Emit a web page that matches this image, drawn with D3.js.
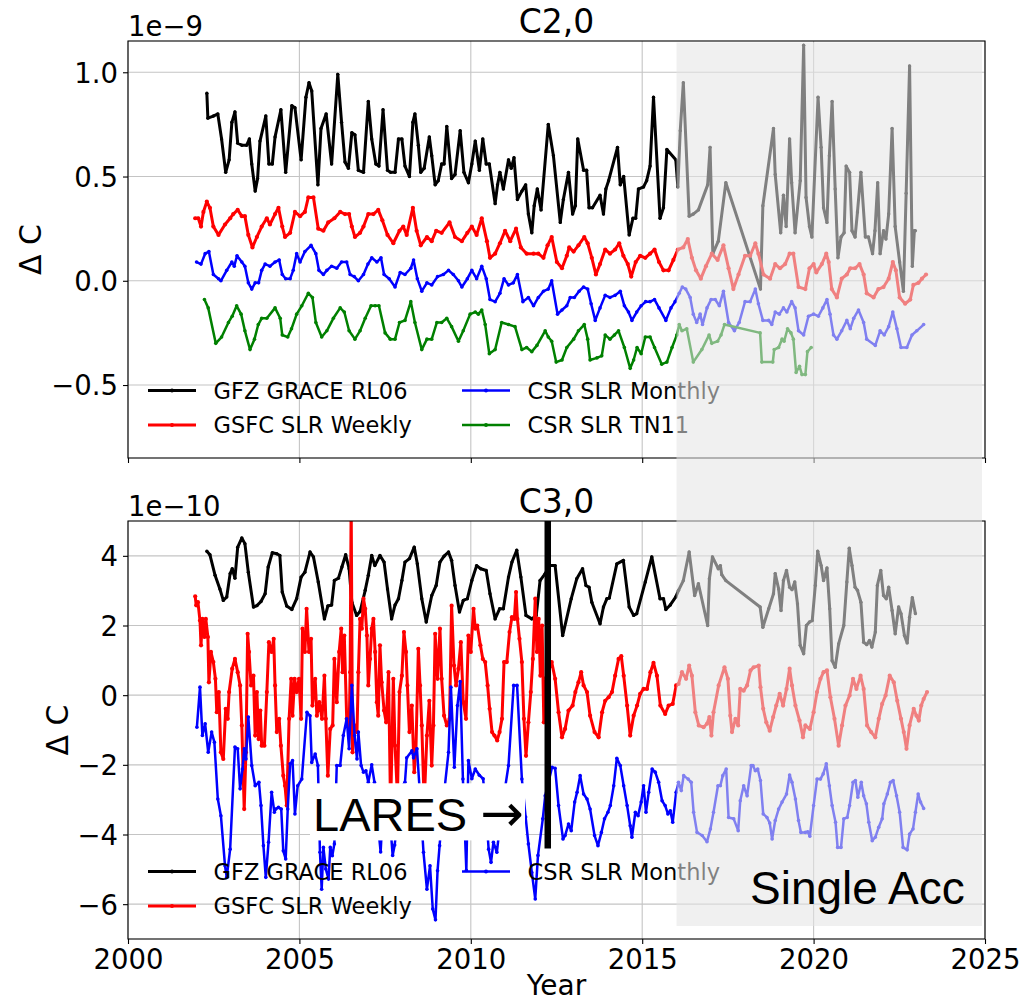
<!DOCTYPE html>
<html><head><meta charset="utf-8">
<script src="https://cdn.jsdelivr.net/npm/d3@7/dist/d3.min.js"></script>
<style>body{margin:0;background:#fff}svg{display:block}</style>
</head><body>
<svg id="fig" width="1022" height="1004"></svg>
<script>
// ---- C2,0 series (units of 1e-9), [decimal year, value] ----
const gfzC20 = [[2002.30,0.90],[2002.33,0.78],[2002.49,0.79],[2002.62,0.80],[2002.73,0.68],[2002.85,0.52],[2002.95,0.58],[2003.03,0.76],[2003.12,0.81],[2003.20,0.66],[2003.32,0.65],[2003.46,0.65],[2003.54,0.68],[2003.61,0.56],[2003.71,0.43],[2003.78,0.49],[2003.85,0.67],[2004.02,0.79],[2004.11,0.56],[2004.21,0.56],[2004.29,0.69],[2004.46,0.82],[2004.60,0.52],[2004.78,0.84],[2004.87,0.83],[2005.05,0.58],[2005.19,0.88],[2005.28,0.95],[2005.36,0.91],[2005.54,0.46],[2005.63,0.73],[2005.78,0.80],[2005.94,0.56],[2006.12,0.99],[2006.23,0.76],[2006.33,0.57],[2006.43,0.54],[2006.53,0.71],[2006.62,0.70],[2006.72,0.53],[2006.87,0.52],[2007.01,0.86],[2007.11,0.68],[2007.23,0.56],[2007.32,0.55],[2007.44,0.82],[2007.57,0.53],[2007.66,0.52],[2007.79,0.52],[2007.89,0.68],[2007.99,0.68],[2008.08,0.55],[2008.21,0.50],[2008.31,0.76],[2008.37,0.80],[2008.47,0.65],[2008.54,0.52],[2008.64,0.54],[2008.79,0.69],[2008.86,0.60],[2008.96,0.46],[2009.05,0.48],[2009.15,0.56],[2009.22,0.56],[2009.30,0.74],[2009.44,0.49],[2009.54,0.51],[2009.69,0.72],[2009.80,0.52],[2009.93,0.47],[2010.03,0.56],[2010.13,0.67],[2010.25,0.53],[2010.35,0.68],[2010.45,0.56],[2010.54,0.56],[2010.71,0.37],[2010.78,0.46],[2010.85,0.52],[2010.95,0.44],[2011.10,0.58],[2011.18,0.54],[2011.26,0.59],[2011.36,0.39],[2011.49,0.43],[2011.60,0.46],[2011.68,0.32],[2011.78,0.23],[2011.85,0.36],[2011.94,0.44],[2012.05,0.34],[2012.26,0.75],[2012.41,0.60],[2012.61,0.28],[2012.70,0.39],[2012.85,0.52],[2012.97,0.32],[2013.05,0.36],[2013.12,0.68],[2013.29,0.53],[2013.38,0.53],[2013.45,0.35],[2013.55,0.35],[2013.77,0.41],[2013.87,0.32],[2013.94,0.44],[2014.02,0.48],[2014.28,0.64],[2014.36,0.46],[2014.46,0.50],[2014.62,0.22],[2014.73,0.30],[2014.81,0.30],[2014.89,0.44],[2015.04,0.45],[2015.13,0.48],[2015.23,0.55],[2015.33,0.88],[2015.52,0.30],[2015.62,0.35],[2015.72,0.63],[2015.98,0.58],[2016.04,0.45],[2016.11,0.72],[2016.20,0.95],[2016.37,0.31],[2016.49,0.32],[2016.64,0.34],[2016.91,0.46],[2016.98,0.64],[2017.06,0.13],[2017.22,0.19],[2017.44,0.47],[2018.45,-0.04],[2018.52,0.36],[2018.83,0.73],[2018.88,0.51],[2019.04,0.23],[2019.12,0.41],[2019.20,0.26],[2019.30,0.68],[2019.36,0.47],[2019.46,0.23],[2019.61,0.48],[2019.71,1.13],[2019.78,0.40],[2019.88,0.26],[2019.95,0.21],[2020.13,0.88],[2020.22,0.64],[2020.29,0.35],[2020.39,0.28],[2020.46,0.60],[2020.54,0.86],[2020.63,0.44],[2020.71,0.11],[2020.80,0.21],[2020.89,0.23],[2020.95,0.55],[2021.05,0.52],[2021.12,0.24],[2021.21,0.21],[2021.28,0.33],[2021.38,0.52],[2021.51,0.21],[2021.60,0.21],[2021.72,0.13],[2021.79,0.24],[2021.87,0.47],[2021.94,0.13],[2022.04,0.24],[2022.11,0.20],[2022.19,0.32],[2022.29,0.73],[2022.38,0.26],[2022.51,0.09],[2022.62,-0.05],[2022.70,0.42],[2022.80,1.03],[2022.88,0.07],[2022.94,0.24],[2022.97,0.24]];

const gsfcC20 = [[2001.96,0.30],[2002.05,0.30],[2002.13,0.26],[2002.20,0.33],[2002.30,0.38],[2002.39,0.35],[2002.49,0.26],[2002.64,0.22],[2002.83,0.27],[2002.98,0.30],[2003.07,0.32],[2003.20,0.34],[2003.32,0.31],[2003.41,0.31],[2003.51,0.22],[2003.63,0.16],[2003.76,0.21],[2003.90,0.26],[2004.05,0.30],[2004.14,0.27],[2004.29,0.32],[2004.39,0.35],[2004.50,0.26],[2004.58,0.21],[2004.73,0.23],[2004.87,0.33],[2005.02,0.31],[2005.16,0.33],[2005.26,0.40],[2005.41,0.40],[2005.55,0.25],[2005.70,0.24],[2005.84,0.28],[2006.02,0.30],[2006.19,0.33],[2006.33,0.32],[2006.45,0.32],[2006.53,0.26],[2006.62,0.21],[2006.77,0.23],[2006.87,0.26],[2007.01,0.32],[2007.16,0.32],[2007.30,0.34],[2007.42,0.29],[2007.57,0.22],[2007.74,0.18],[2007.92,0.24],[2008.03,0.26],[2008.13,0.22],[2008.31,0.35],[2008.42,0.24],[2008.54,0.17],[2008.72,0.21],[2008.86,0.19],[2008.99,0.24],[2009.15,0.23],[2009.38,0.28],[2009.54,0.21],[2009.74,0.19],[2009.90,0.23],[2010.03,0.26],[2010.17,0.22],[2010.32,0.30],[2010.47,0.19],[2010.56,0.11],[2010.71,0.13],[2010.85,0.18],[2011.00,0.24],[2011.15,0.19],[2011.32,0.25],[2011.46,0.16],[2011.63,0.13],[2011.83,0.13],[2011.97,0.13],[2012.12,0.11],[2012.24,0.17],[2012.36,0.21],[2012.51,0.09],[2012.66,0.06],[2012.80,0.12],[2012.87,0.16],[2013.00,0.14],[2013.14,0.17],[2013.31,0.21],[2013.41,0.18],[2013.53,0.11],[2013.65,0.03],[2013.77,0.08],[2013.92,0.15],[2014.06,0.13],[2014.21,0.15],[2014.33,0.18],[2014.45,0.12],[2014.58,0.08],[2014.68,0.02],[2014.81,0.09],[2014.94,0.12],[2015.09,0.11],[2015.23,0.13],[2015.36,0.15],[2015.49,0.09],[2015.62,0.05],[2015.77,0.05],[2015.91,0.10],[2016.04,0.15],[2016.20,0.16],[2016.33,0.20],[2016.45,0.11],[2016.57,0.05],[2016.71,0.01],[2016.86,0.07],[2017.03,0.13],[2017.20,0.10],[2017.37,0.17],[2017.52,0.06],[2017.66,-0.04],[2017.81,0.03],[2018.00,0.12],[2018.15,0.12],[2018.30,0.18],[2018.39,0.13],[2018.54,0.03],[2018.73,0.01],[2018.88,0.08],[2019.02,0.06],[2019.17,0.08],[2019.30,0.13],[2019.41,0.13],[2019.56,-0.03],[2019.76,-0.04],[2019.88,0.06],[2020.00,0.08],[2020.08,0.04],[2020.24,0.08],[2020.37,0.13],[2020.44,0.09],[2020.53,-0.04],[2020.68,-0.08],[2020.82,0.01],[2020.97,0.03],[2021.07,0.06],[2021.21,0.06],[2021.34,0.08],[2021.46,0.03],[2021.55,-0.06],[2021.75,-0.08],[2021.89,-0.04],[2022.04,-0.03],[2022.19,0.01],[2022.31,0.09],[2022.40,0.05],[2022.51,-0.08],[2022.67,-0.11],[2022.82,-0.09],[2022.91,-0.02],[2023.06,-0.01],[2023.16,0.01],[2023.28,0.03]];

const csrMonthlyC20 = [[2002.00,0.09],[2002.13,0.08],[2002.25,0.13],[2002.36,0.14],[2002.49,0.03],[2002.64,0.01],[2002.71,0.00],[2002.88,0.05],[2003.03,0.09],[2003.10,0.07],[2003.18,0.12],[2003.32,0.09],[2003.41,0.07],[2003.51,-0.01],[2003.61,-0.04],[2003.71,-0.01],[2003.81,-0.01],[2003.90,0.05],[2004.00,0.08],[2004.14,0.07],[2004.29,0.09],[2004.41,0.10],[2004.50,0.03],[2004.60,0.01],[2004.73,0.01],[2004.82,0.05],[2004.92,0.13],[2005.02,0.09],[2005.16,0.14],[2005.34,0.17],[2005.48,0.13],[2005.57,0.05],[2005.70,0.03],[2005.80,0.05],[2005.94,0.07],[2006.09,0.06],[2006.23,0.09],[2006.38,0.09],[2006.48,0.03],[2006.60,0.02],[2006.72,0.00],[2006.87,0.03],[2007.00,0.08],[2007.11,0.11],[2007.26,0.09],[2007.38,0.11],[2007.47,0.03],[2007.62,0.01],[2007.79,-0.03],[2007.94,0.04],[2008.08,0.03],[2008.25,0.06],[2008.33,0.10],[2008.44,0.01],[2008.57,-0.05],[2008.72,-0.01],[2008.86,-0.02],[2009.03,0.02],[2009.20,0.03],[2009.35,0.05],[2009.49,0.03],[2009.64,0.00],[2009.74,-0.03],[2009.90,0.01],[2010.03,0.05],[2010.17,0.01],[2010.32,0.07],[2010.45,0.01],[2010.56,-0.09],[2010.71,-0.10],[2010.85,-0.06],[2010.97,0.01],[2011.10,-0.02],[2011.24,-0.01],[2011.36,0.03],[2011.52,-0.10],[2011.68,-0.08],[2011.83,-0.12],[2011.97,-0.08],[2012.12,-0.05],[2012.26,-0.04],[2012.36,0.00],[2012.53,-0.16],[2012.66,-0.14],[2012.80,-0.12],[2012.90,-0.08],[2013.02,-0.08],[2013.16,-0.05],[2013.29,-0.03],[2013.41,-0.04],[2013.51,-0.11],[2013.63,-0.19],[2013.77,-0.13],[2013.92,-0.07],[2014.06,-0.08],[2014.21,-0.07],[2014.36,-0.05],[2014.48,-0.12],[2014.60,-0.15],[2014.70,-0.19],[2014.84,-0.15],[2014.97,-0.12],[2015.10,-0.10],[2015.23,-0.10],[2015.36,-0.09],[2015.49,-0.13],[2015.69,-0.19],[2015.84,-0.13],[2015.96,-0.10],[2016.08,-0.06],[2016.17,-0.03],[2016.27,-0.04],[2016.40,-0.08],[2016.49,-0.16],[2016.59,-0.20],[2016.69,-0.16],[2016.76,-0.21],[2016.89,-0.13],[2017.01,-0.09],[2017.13,-0.09],[2017.25,-0.12],[2017.37,-0.05],[2017.52,-0.20],[2017.69,-0.24],[2017.83,-0.20],[2018.00,-0.10],[2018.15,-0.10],[2018.30,-0.04],[2018.39,-0.11],[2018.52,-0.19],[2018.69,-0.19],[2018.78,-0.21],[2018.88,-0.15],[2019.00,-0.16],[2019.12,-0.13],[2019.22,-0.15],[2019.36,-0.10],[2019.46,-0.13],[2019.56,-0.24],[2019.71,-0.26],[2019.85,-0.17],[2020.00,-0.16],[2020.14,-0.17],[2020.27,-0.13],[2020.39,-0.09],[2020.48,-0.16],[2020.58,-0.26],[2020.68,-0.28],[2020.82,-0.24],[2020.97,-0.19],[2021.07,-0.23],[2021.17,-0.18],[2021.31,-0.14],[2021.46,-0.20],[2021.55,-0.28],[2021.80,-0.31],[2021.94,-0.24],[2022.06,-0.26],[2022.19,-0.22],[2022.31,-0.15],[2022.43,-0.23],[2022.55,-0.32],[2022.72,-0.32],[2022.87,-0.26],[2023.01,-0.24],[2023.21,-0.21]];

const csrTn11C20 = [[2002.23,-0.09],[2002.34,-0.13],[2002.56,-0.30],[2002.73,-0.27],[2002.93,-0.20],[2003.04,-0.17],[2003.17,-0.12],[2003.30,-0.16],[2003.41,-0.24],[2003.56,-0.33],[2003.69,-0.28],[2003.80,-0.21],[2003.90,-0.18],[2004.05,-0.18],[2004.29,-0.13],[2004.44,-0.18],[2004.50,-0.26],[2004.66,-0.27],[2004.77,-0.23],[2004.92,-0.16],[2005.07,-0.12],[2005.26,-0.06],[2005.38,-0.08],[2005.48,-0.20],[2005.65,-0.27],[2005.80,-0.24],[2005.99,-0.18],[2006.19,-0.13],[2006.31,-0.15],[2006.45,-0.24],[2006.62,-0.28],[2006.77,-0.24],[2006.92,-0.18],[2007.09,-0.12],[2007.21,-0.12],[2007.32,-0.12],[2007.50,-0.25],[2007.65,-0.28],[2007.79,-0.28],[2007.92,-0.20],[2008.08,-0.19],[2008.25,-0.10],[2008.37,-0.20],[2008.57,-0.33],[2008.72,-0.28],[2008.86,-0.28],[2009.01,-0.20],[2009.15,-0.20],[2009.30,-0.18],[2009.44,-0.22],[2009.64,-0.29],[2009.78,-0.24],[2009.98,-0.16],[2010.13,-0.15],[2010.22,-0.16],[2010.32,-0.14],[2010.42,-0.21],[2010.54,-0.35],[2010.71,-0.33],[2010.90,-0.20],[2011.10,-0.21],[2011.29,-0.22],[2011.49,-0.33],[2011.63,-0.32],[2011.78,-0.34],[2011.93,-0.31],[2012.17,-0.24],[2012.26,-0.27],[2012.36,-0.29],[2012.49,-0.39],[2012.66,-0.38],[2012.80,-0.32],[2013.00,-0.28],[2013.14,-0.24],[2013.31,-0.21],[2013.41,-0.28],[2013.48,-0.38],[2013.68,-0.37],[2013.82,-0.36],[2013.92,-0.26],[2014.06,-0.28],[2014.19,-0.26],[2014.31,-0.24],[2014.48,-0.32],[2014.65,-0.42],[2014.75,-0.38],[2014.85,-0.32],[2014.97,-0.35],[2015.09,-0.27],[2015.23,-0.27],[2015.36,-0.32],[2015.57,-0.40],[2015.72,-0.39],[2015.87,-0.32],[2016.01,-0.26],[2016.08,-0.21],[2016.16,-0.24],[2016.30,-0.23],[2016.49,-0.39],[2016.74,-0.33],[2016.95,-0.26],[2017.03,-0.30],[2017.20,-0.29],[2017.30,-0.26],[2017.40,-0.21],[2018.44,-0.25],[2018.49,-0.39],[2018.81,-0.39],[2018.85,-0.33],[2018.98,-0.32],[2019.08,-0.28],[2019.14,-0.29],[2019.24,-0.23],[2019.34,-0.25],[2019.41,-0.28],[2019.49,-0.44],[2019.59,-0.41],[2019.66,-0.45],[2019.76,-0.45],[2019.82,-0.34],[2019.93,-0.32]];

// ---- C3,0 series (units of 1e-10) ----
const gfzC30 = [[2002.30,4.13],[2002.39,4.03],[2002.54,3.44],[2002.68,3.05],[2002.78,2.72],[2002.88,2.82],[2002.98,3.49],[2003.04,3.63],[2003.12,3.36],[2003.20,4.25],[2003.32,4.51],[2003.41,4.35],[2003.51,3.53],[2003.66,2.53],[2003.76,2.57],[2003.88,2.69],[2004.00,2.91],[2004.09,3.68],[2004.21,4.09],[2004.34,4.06],[2004.43,4.01],[2004.50,2.96],[2004.63,2.56],[2004.78,2.46],[2004.92,2.77],[2005.05,3.39],[2005.16,3.53],[2005.31,4.11],[2005.41,3.97],[2005.55,3.25],[2005.73,2.19],[2005.83,2.56],[2005.94,2.59],[2006.02,3.29],[2006.14,3.36],[2006.24,3.68],[2006.35,4.03],[2006.45,3.63],[2006.53,2.67],[2006.67,2.29],[2006.77,2.40],[2006.92,3.01],[2007.01,3.44],[2007.11,4.01],[2007.20,3.72],[2007.35,4.01],[2007.47,3.82],[2007.57,3.05],[2007.69,2.19],[2007.79,2.59],[2007.89,2.77],[2007.99,3.29],[2008.08,3.82],[2008.21,3.92],[2008.35,4.25],[2008.44,3.77],[2008.57,2.77],[2008.70,2.10],[2008.86,2.86],[2008.99,3.15],[2009.10,3.82],[2009.22,3.99],[2009.35,4.11],[2009.44,3.87],[2009.54,3.15],[2009.67,2.39],[2009.78,2.72],[2009.90,2.77],[2010.03,3.29],[2010.17,3.72],[2010.29,3.63],[2010.45,3.58],[2010.56,2.91],[2010.71,2.19],[2010.84,2.48],[2010.95,2.48],[2011.10,3.39],[2011.20,3.82],[2011.34,4.16],[2011.46,3.39],[2011.61,2.29],[2011.78,2.19],[2011.91,2.29],[2012.02,3.29],[2012.17,3.49],[2012.31,3.72],[2012.46,3.72],[2012.68,1.71],[2012.93,2.77],[2013.09,3.34],[2013.26,3.63],[2013.36,3.15],[2013.45,3.10],[2013.53,2.67],[2013.77,2.05],[2013.87,2.53],[2013.97,2.77],[2014.04,2.79],[2014.26,3.77],[2014.45,3.87],[2014.62,2.53],[2014.75,2.29],[2014.84,2.34],[2015.09,3.25],[2015.28,3.97],[2015.52,2.77],[2015.62,2.77],[2015.69,2.46],[2015.82,2.59],[2015.98,2.82],[2016.06,3.01],[2016.20,3.29],[2016.37,4.11],[2016.53,2.86],[2016.64,3.20],[2016.91,2.00],[2016.96,3.34],[2017.05,3.97],[2017.22,3.63],[2017.28,3.72],[2017.32,3.46],[2017.44,3.29],[2018.44,2.53],[2018.52,1.95],[2018.69,2.48],[2018.83,2.91],[2018.88,3.49],[2018.98,3.05],[2019.05,2.43],[2019.12,3.29],[2019.21,3.58],[2019.30,3.10],[2019.37,3.03],[2019.45,3.25],[2019.53,2.62],[2019.61,1.43],[2019.71,1.19],[2019.79,2.00],[2019.88,2.10],[2019.96,2.14],[2020.05,3.15],[2020.12,4.13],[2020.22,3.72],[2020.29,3.29],[2020.39,3.65],[2020.47,2.48],[2020.54,0.99],[2020.63,0.80],[2020.73,1.47],[2020.88,2.00],[2020.97,3.25],[2021.04,4.22],[2021.12,3.72],[2021.21,3.10],[2021.28,3.01],[2021.38,2.67],[2021.46,1.52],[2021.55,1.45],[2021.63,1.57],[2021.70,1.38],[2021.80,1.81],[2021.86,3.15],[2021.96,3.58],[2022.04,2.86],[2022.12,2.77],[2022.19,3.10],[2022.29,2.43],[2022.38,1.76],[2022.48,2.53],[2022.55,2.34],[2022.65,1.71],[2022.73,1.50],[2022.80,2.24],[2022.88,2.80],[2022.97,2.34]];

const gsfcC30 = [[2001.96,2.84],[2001.99,2.58],[2002.04,2.67],[2002.10,2.14],[2002.13,1.43],[2002.17,2.19],[2002.23,1.67],[2002.27,2.19],[2002.33,1.67],[2002.36,0.37],[2002.42,1.24],[2002.49,0.95],[2002.55,0.47],[2002.59,-0.49],[2002.65,0.09],[2002.71,-1.64],[2002.78,-1.83],[2002.85,-0.39],[2002.91,-0.68],[2002.95,0.09],[2003.04,0.76],[2003.12,1.04],[2003.20,0.66],[2003.27,0.28],[2003.32,-0.87],[2003.39,-3.27],[2003.44,-1.64],[2003.49,1.76],[2003.53,1.24],[2003.59,0.28],[2003.66,0.56],[2003.71,-1.16],[2003.76,0.09],[2003.81,-1.26],[2003.86,-0.44],[2003.90,-1.45],[2003.98,-1.45],[2004.05,0.09],[2004.11,1.52],[2004.19,1.24],[2004.25,1.62],[2004.29,0.28],[2004.34,-1.06],[2004.41,-0.68],[2004.46,-1.45],[2004.53,-2.31],[2004.58,-2.60],[2004.63,-3.17],[2004.70,-0.68],[2004.76,0.47],[2004.80,-0.59],[2004.86,0.47],[2004.92,0.09],[2004.99,0.47],[2005.05,-0.68],[2005.09,1.91],[2005.16,1.24],[2005.21,2.48],[2005.28,1.24],[2005.34,1.62],[2005.38,-0.30],[2005.46,0.47],[2005.51,-0.59],[2005.58,-0.20],[2005.66,-0.68],[2005.73,0.56],[2005.77,-0.68],[2005.83,-2.31],[2005.90,-0.97],[2005.97,-0.87],[2006.02,1.04],[2006.09,-0.20],[2006.16,1.24],[2006.22,1.91],[2006.26,0.66],[2006.31,1.71],[2006.38,-0.68],[2006.45,-1.06],[2006.48,0.66],[2006.51,5.60],[2006.55,-1.64],[2006.61,-0.87],[2006.68,-1.06],[2006.72,0.66],[2006.77,2.19],[2006.82,1.91],[2006.87,2.77],[2006.92,2.48],[2006.97,1.71],[2007.01,0.28],[2007.06,1.04],[2007.11,1.91],[2007.16,2.19],[2007.21,1.24],[2007.26,-0.20],[2007.30,-0.59],[2007.35,1.43],[2007.40,0.37],[2007.47,-0.44],[2007.53,-0.78],[2007.60,0.66],[2007.66,-3.30],[2007.74,0.47],[2007.79,-1.45],[2007.86,-2.90],[2007.92,0.09],[2007.99,0.56],[2008.05,1.81],[2008.11,1.24],[2008.15,0.28],[2008.21,-1.06],[2008.28,-0.30],[2008.35,-2.21],[2008.40,-1.54],[2008.47,1.33],[2008.52,0.28],[2008.57,-0.87],[2008.64,-3.10],[2008.72,-1.16],[2008.79,-0.16],[2008.86,-2.02],[2008.91,-0.87],[2008.96,1.76],[2009.03,0.47],[2009.10,1.91],[2009.15,0.47],[2009.22,-0.59],[2009.30,-0.87],[2009.38,-0.68],[2009.44,2.57],[2009.51,0.85],[2009.57,0.28],[2009.64,0.76],[2009.71,1.52],[2009.78,-0.20],[2009.86,-0.68],[2009.93,1.71],[2010.00,1.24],[2010.08,2.48],[2010.13,1.91],[2010.19,2.00],[2010.28,1.43],[2010.35,1.04],[2010.42,0.95],[2010.49,0.28],[2010.55,-0.39],[2010.62,-1.06],[2010.69,-1.16],[2010.77,-1.30],[2010.84,-1.06],[2010.91,-0.68],[2010.97,0.95],[2011.05,0.95],[2011.13,1.81],[2011.20,2.24],[2011.27,2.19],[2011.32,2.96],[2011.36,2.19],[2011.42,1.62],[2011.49,0.95],[2011.55,-0.68],[2011.61,-1.74],[2011.68,-0.78],[2011.75,0.09],[2011.81,1.04],[2011.88,2.77],[2011.93,1.24],[2011.98,2.19],[2012.03,0.56],[2012.08,2.00],[2012.13,-0.78],[2012.20,0.50],[2012.36,0.95],[2012.46,0.47],[2012.56,-0.49],[2012.66,-1.21],[2012.75,-0.97],[2012.85,-0.44],[2012.97,-0.30],[2013.05,0.09],[2013.14,0.37],[2013.22,0.66],[2013.29,0.28],[2013.39,0.09],[2013.48,-0.59],[2013.61,-1.06],[2013.73,-1.21],[2013.83,-0.49],[2013.92,-0.16],[2014.02,-0.06],[2014.12,0.09],[2014.21,0.56],[2014.31,1.04],[2014.39,1.12],[2014.46,0.56],[2014.56,-0.30],[2014.65,-1.16],[2014.75,-0.59],[2014.85,-0.30],[2014.94,0.04],[2015.04,0.18],[2015.14,0.18],[2015.24,0.66],[2015.33,0.93],[2015.43,0.56],[2015.53,-0.30],[2015.67,-0.54],[2015.77,-0.30],[2015.89,-0.25],[2015.99,0.28],[2016.06,0.32],[2016.16,0.66],[2016.28,0.47],[2016.37,0.85],[2016.45,0.56],[2016.55,-0.49],[2016.65,-0.87],[2016.79,-0.92],[2016.89,-0.82],[2016.96,-0.63],[2017.02,-1.16],[2017.08,-0.49],[2017.23,0.28],[2017.40,0.80],[2017.50,0.47],[2017.57,-0.59],[2017.62,-1.06],[2017.72,-0.68],[2017.80,-0.87],[2017.86,0.18],[2017.96,0.13],[2018.06,0.28],[2018.16,0.71],[2018.25,0.80],[2018.40,0.85],[2018.45,0.23],[2018.53,-0.39],[2018.62,-0.78],[2018.72,-1.02],[2018.82,-0.63],[2018.91,-0.30],[2019.01,0.04],[2019.11,-0.30],[2019.21,0.18],[2019.30,0.76],[2019.37,0.28],[2019.47,-0.30],[2019.59,-0.73],[2019.69,-1.21],[2019.76,-0.87],[2019.89,-0.97],[2020.00,-0.49],[2020.10,0.09],[2020.20,0.47],[2020.29,0.66],[2020.39,0.71],[2020.49,-0.06],[2020.61,-0.68],[2020.73,-1.45],[2020.83,-0.87],[2020.93,-0.30],[2021.05,-0.01],[2021.15,0.47],[2021.25,0.18],[2021.37,0.56],[2021.46,0.18],[2021.56,-0.87],[2021.68,-1.06],[2021.80,-1.21],[2021.90,-0.68],[2022.00,-0.25],[2022.10,-0.01],[2022.22,0.56],[2022.34,0.37],[2022.44,-0.16],[2022.55,-0.68],[2022.63,-1.06],[2022.71,-1.54],[2022.80,-0.87],[2022.92,-0.39],[2023.00,-0.59],[2023.07,-0.73],[2023.14,-0.30],[2023.21,-0.11],[2023.31,0.09]];

const csrMonthlyC30 = [[2002.01,-0.92],[2002.10,0.23],[2002.17,-1.16],[2002.25,-0.82],[2002.34,-1.64],[2002.44,-1.06],[2002.52,-1.35],[2002.62,-2.98],[2002.71,-3.46],[2002.83,-4.90],[2002.88,-5.23],[2002.98,-4.42],[2003.12,-1.49],[2003.20,-1.54],[2003.27,-2.69],[2003.34,-2.12],[2003.39,-1.54],[2003.44,-1.83],[2003.51,-0.63],[2003.61,-2.02],[2003.71,-2.60],[2003.82,-2.50],[2003.88,-3.17],[2003.95,-4.32],[2004.02,-5.23],[2004.10,-4.22],[2004.19,-2.79],[2004.27,-3.36],[2004.31,-3.27],[2004.39,-3.22],[2004.47,-3.27],[2004.53,-4.47],[2004.60,-4.70],[2004.66,-3.27],[2004.73,-1.97],[2004.80,-1.88],[2004.87,-3.41],[2004.95,-2.60],[2005.07,-2.41],[2005.22,-0.49],[2005.31,-0.59],[2005.36,-1.93],[2005.46,-1.69],[2005.54,-2.02],[2005.60,-4.51],[2005.65,-5.57],[2005.70,-4.37],[2005.77,-4.99],[2005.85,-5.28],[2005.90,-4.37],[2005.96,-4.61],[2006.02,-4.27],[2006.09,-2.02],[2006.19,-2.02],[2006.28,-1.16],[2006.38,-0.68],[2006.45,-1.54],[2006.53,0.28],[2006.61,-1.16],[2006.68,-1.83],[2006.72,-1.06],[2006.80,-2.02],[2006.87,-2.21],[2006.94,-2.17],[2007.01,-2.50],[2007.11,-2.00],[2007.19,-2.50],[2007.28,-3.60],[2007.37,-4.50],[2007.45,-3.00],[2007.55,-2.70],[2007.66,-3.80],[2007.72,-4.60],[2007.78,-4.30],[2007.90,-3.20],[2008.00,-2.60],[2008.08,-2.50],[2008.13,-1.80],[2008.28,-1.60],[2008.33,-1.80],[2008.43,-1.54],[2008.50,-2.60],[2008.62,-4.51],[2008.72,-5.57],[2008.81,-4.90],[2008.89,-6.14],[2008.97,-6.45],[2009.03,-5.04],[2009.09,-4.32],[2009.20,-3.00],[2009.35,-1.64],[2009.42,0.23],[2009.52,-2.07],[2009.61,-0.30],[2009.69,0.39],[2009.77,-2.41],[2009.87,-5.03],[2009.93,-1.88],[2010.03,-2.40],[2010.13,-2.12],[2010.25,-2.30],[2010.36,-2.40],[2010.45,-3.40],[2010.52,-4.42],[2010.59,-4.80],[2010.66,-4.22],[2010.76,-4.51],[2010.90,-3.30],[2011.10,-2.02],[2011.25,0.28],[2011.35,0.28],[2011.49,-2.41],[2011.60,-3.50],[2011.68,-4.27],[2011.78,-5.09],[2011.88,-5.85],[2011.96,-4.60],[2012.10,-3.55],[2012.17,-2.89],[2012.37,-2.07],[2012.46,-2.10],[2012.56,-3.17],[2012.69,-4.13],[2012.75,-4.03],[2012.85,-3.70],[2012.93,-3.89],[2013.03,-3.07],[2013.10,-2.79],[2013.19,-2.31],[2013.29,-2.84],[2013.39,-2.98],[2013.48,-3.27],[2013.61,-4.03],[2013.71,-4.32],[2013.81,-3.94],[2013.90,-3.55],[2014.00,-3.36],[2014.07,-3.17],[2014.17,-2.60],[2014.26,-1.81],[2014.36,-2.02],[2014.46,-2.60],[2014.56,-3.17],[2014.65,-3.75],[2014.70,-4.08],[2014.80,-3.36],[2014.88,-3.46],[2014.97,-3.07],[2015.04,-2.60],[2015.11,-3.36],[2015.19,-2.79],[2015.29,-2.12],[2015.38,-2.21],[2015.48,-2.50],[2015.58,-3.03],[2015.67,-3.17],[2015.75,-3.41],[2015.82,-3.32],[2015.89,-3.65],[2015.99,-2.79],[2016.06,-2.50],[2016.14,-2.74],[2016.21,-2.31],[2016.34,-2.41],[2016.43,-2.50],[2016.50,-3.36],[2016.60,-3.94],[2016.75,-4.03],[2016.89,-4.21],[2016.99,-3.84],[2017.08,-3.36],[2017.21,-2.60],[2017.28,-2.60],[2017.35,-2.31],[2017.45,-2.12],[2017.52,-3.51],[2017.67,-3.55],[2017.80,-3.89],[2017.86,-3.03],[2017.96,-2.60],[2018.06,-2.89],[2018.18,-2.02],[2018.23,-2.02],[2018.30,-2.17],[2018.37,-2.12],[2018.45,-2.45],[2018.53,-3.41],[2018.64,-3.51],[2018.72,-3.67],[2018.79,-4.13],[2018.88,-3.60],[2018.98,-3.27],[2019.08,-3.07],[2019.21,-2.84],[2019.30,-2.29],[2019.37,-2.50],[2019.47,-2.98],[2019.56,-3.60],[2019.63,-3.94],[2019.76,-3.94],[2019.83,-3.92],[2019.89,-4.05],[2020.00,-3.17],[2020.10,-2.41],[2020.20,-2.41],[2020.28,-2.26],[2020.37,-1.97],[2020.46,-2.60],[2020.54,-3.17],[2020.64,-3.65],[2020.70,-4.37],[2020.80,-4.37],[2020.88,-3.55],[2020.98,-3.51],[2021.05,-3.17],[2021.15,-2.50],[2021.22,-2.45],[2021.29,-2.93],[2021.39,-2.50],[2021.46,-2.89],[2021.54,-3.12],[2021.61,-3.65],[2021.71,-4.18],[2021.80,-4.08],[2021.90,-3.79],[2022.00,-3.55],[2022.05,-3.12],[2022.15,-2.84],[2022.24,-2.50],[2022.32,-2.45],[2022.42,-2.89],[2022.51,-3.36],[2022.61,-4.37],[2022.73,-4.44],[2022.80,-3.99],[2022.90,-3.84],[2022.97,-3.36],[2023.05,-2.84],[2023.12,-3.07],[2023.21,-3.25]];

// ---- axis ticks and labels ----
const yearTicks = [2000, 2005, 2010, 2015, 2020, 2025];
const c20Ticks = [-0.5, 0.0, 0.5, 1.0];
const c30Ticks = [-6, -4, -2, 0, 2, 4];
const seriesNames = ["GFZ GRACE RL06", "GSFC SLR Weekly", "CSR SLR Monthly", "CSR SLR TN11"];
const seriesColors = ["#000000", "#ff0000", "#0000ff", "#008000"];
const seriesWidths = [3, 3, 2.5, 2.5];
const markerRadius = [1.7, 2.1, 1.8, 1.8];
const laresYear = 2012.245;
const singleAccStart = 2016.0;

const FONT = "'DejaVu Sans', sans-serif";
const SANS = "'Liberation Sans', Arial, sans-serif";
const svg = d3.select("#fig");
const x = d3.scaleLinear().domain([2000, 2025]).range([128, 985]);

const panels = [
  { title: "C2,0", offset: "1e\u22129", top: 41, bottom: 458, domain: [-0.85, 1.15], ticks: c20Ticks, fmt: d3.format(".1f"),
    series: [gfzC20, gsfcC20, csrMonthlyC20, csrTn11C20], legend: [0, 1, 2, 3], yLabelX: 30, xLabels: false },
  { title: "C3,0", offset: "1e\u221210", top: 521, bottom: 939, domain: [-7, 5], ticks: c30Ticks, fmt: d3.format("d"),
    series: [gfzC30, gsfcC30, csrMonthlyC30], legend: [0, 1, 2], yLabelX: 57, xLabels: true }
];

const minus = s => s.replace("-", "\u2212");

panels.forEach((p, pi) => {
  const y = d3.scaleLinear().domain(p.domain).range([p.bottom, p.top]);
  const g = svg.append("g");
  const clipId = "clip" + pi;
  svg.append("clipPath").attr("id", clipId).append("rect")
    .attr("x", x.range()[0]).attr("y", p.top).attr("width", x.range()[1] - x.range()[0]).attr("height", p.bottom - p.top);

  // grid
  g.append("g").selectAll("line").data(yearTicks).join("line")
    .attr("x1", d => x(d)).attr("x2", d => x(d)).attr("y1", p.top).attr("y2", p.bottom)
    .attr("stroke", "#c4c4c4").attr("stroke-width", 1.1);
  g.append("g").selectAll("line").data(p.ticks).join("line")
    .attr("x1", x.range()[0]).attr("x2", x.range()[1]).attr("y1", d => y(d)).attr("y2", d => y(d))
    .attr("stroke", "#c4c4c4").attr("stroke-width", 1.1);

  // series: line plus a small dot at every sample
  const line = d3.line().x(d => x(d[0])).y(d => y(d[1]));
  const plot = g.append("g").attr("clip-path", `url(#${clipId})`);
  p.series.forEach((data, si) => {
    const col = seriesColors[si];
    plot.append("path").datum(data).attr("d", line).attr("fill", "none")
      .attr("stroke", col).attr("stroke-width", seriesWidths[si]).attr("stroke-linejoin", "round");
    plot.append("g").selectAll("circle").data(data).join("circle")
      .attr("cx", d => x(d[0])).attr("cy", d => y(d[1])).attr("r", markerRadius[si]).attr("fill", col);
  });

  // axes
  const ax = g.append("g").attr("transform", `translate(0,${p.bottom})`)
    .call(d3.axisBottom(x).tickValues(yearTicks).tickSize(5).tickPadding(5).tickFormat(p.xLabels ? d3.format("d") : ""));
  const ay = g.append("g").attr("transform", `translate(${x.range()[0]},0)`)
    .call(d3.axisLeft(y).tickValues(p.ticks).tickSize(5).tickPadding(5).tickFormat(d => minus(p.fmt(d))));
  [ax, ay].forEach(a => {
    a.select(".domain").remove();
    a.selectAll(".tick line").attr("stroke", "#000").attr("stroke-width", 1.1);
    a.selectAll(".tick text").attr("font-family", FONT).attr("font-size", 27.5).attr("fill", "#000");
  });
  ay.selectAll(".tick text").attr("dy", "0.36em");
  ax.selectAll(".tick text").attr("dy", "0.74em");

  // frame
  g.append("rect").attr("x", x.range()[0]).attr("y", p.top)
    .attr("width", x.range()[1] - x.range()[0]).attr("height", p.bottom - p.top)
    .attr("fill", "none").attr("stroke", "#000").attr("stroke-width", 1.1);

  // title, offset text, y label
  g.append("text").attr("x", (x.range()[0] + x.range()[1]) / 2).attr("y", p.top - 8)
    .attr("text-anchor", "middle").attr("font-family", FONT).attr("font-size", 33).text(p.title);
  g.append("text").attr("x", x.range()[0]).attr("y", p.top - 5)
    .attr("font-family", FONT).attr("font-size", 27.5).text(p.offset);
  g.append("text").attr("transform", `translate(${p.yLabelX},${(p.top + p.bottom) / 2}) rotate(-90)`)
    .attr("text-anchor", "middle").attr("dy", "0.36em").attr("font-family", FONT).attr("font-size", 30).text("\u0394 C");

  // legend (two columns, no frame)
  const lg = g.append("g");
  const colX = [148, 462];
  const rowY = [p.bottom - 67.5, p.bottom - 33];
  p.legend.forEach((si, k) => {
    const cx = colX[Math.floor(k / 2)], cy = rowY[k % 2];
    lg.append("line").attr("x1", cx).attr("x2", cx + 48).attr("y1", cy).attr("y2", cy)
      .attr("stroke", seriesColors[si]).attr("stroke-width", seriesWidths[si]);
    lg.append("circle").attr("cx", cx + 24).attr("cy", cy).attr("r", 2).attr("fill", seriesColors[si]);
    lg.append("text").attr("x", cx + 65.5).attr("y", cy + 8.1)
      .attr("font-family", FONT).attr("font-size", 22.5).text(seriesNames[si]);
  });

  if (pi === 1) {
    // LARES launch marker
    const box = svg.append("g");
    box.append("rect").attr("x", 310).attr("y", y(-2.53)).attr("width", 215).attr("height", y(-4.17) - y(-2.53)).attr("fill", "#fff");
    const t = box.append("text").attr("x", 313).attr("y", y(-3.90)).attr("font-family", SANS).attr("font-size", 47);
    t.append("tspan").text("LARES ");
    t.append("tspan").attr("font-family", FONT).attr("font-size", 52).text("\u2192");
    svg.append("line").attr("x1", x(laresYear)).attr("x2", x(laresYear)).attr("y1", y(5)).attr("y2", y(-4.4))
      .attr("stroke", "#000").attr("stroke-width", 6.5);
  }
});

// shaded single-accelerometer period, laid over both panels
svg.append("rect").attr("x", x(singleAccStart)).attr("y", 42.5)
  .attr("width", 982 - x(singleAccStart)).attr("height", 926 - 42.5)
  .attr("fill", "rgb(228,228,228)").attr("fill-opacity", 0.56);
svg.append("text").attr("x", 750).attr("y", 904).attr("font-family", SANS)
  .attr("font-size", 46).text("Single Acc");

// shared x label
svg.append("text").attr("x", (x.range()[0] + x.range()[1]) / 2).attr("y", 995)
  .attr("text-anchor", "middle").attr("font-family", FONT).attr("font-size", 28).text("Year");
</script>
</body></html>
